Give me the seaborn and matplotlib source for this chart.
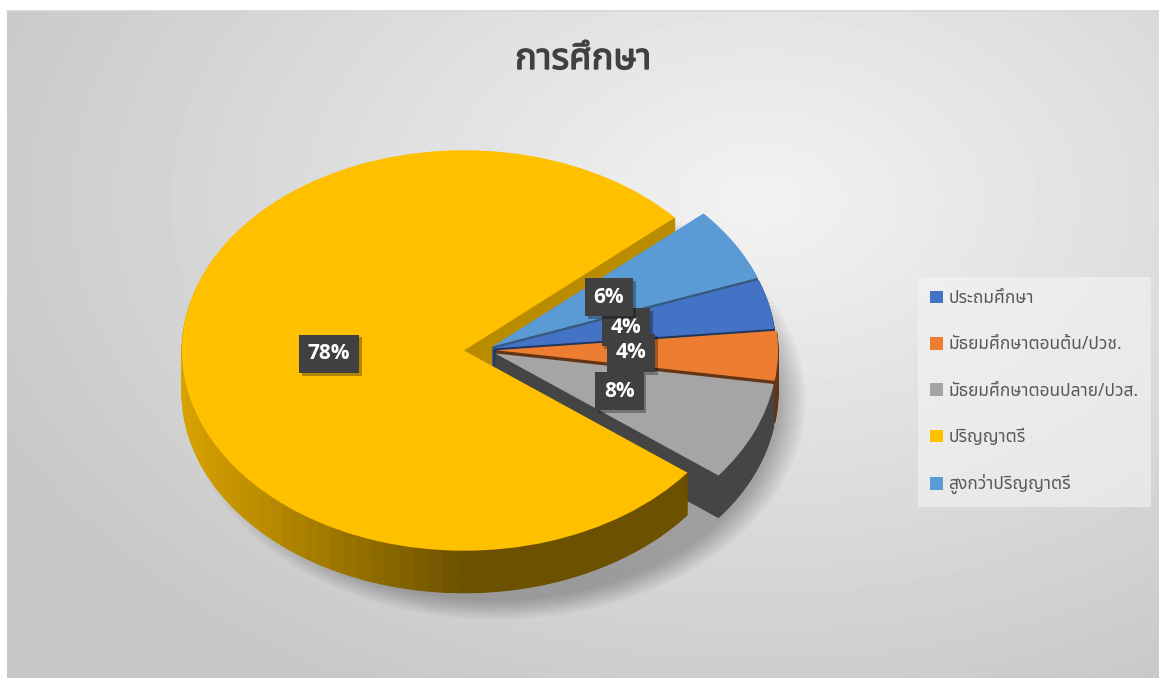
import numpy as np
import matplotlib
matplotlib.use('Agg')
import matplotlib.pyplot as plt
import matplotlib.patheffects as pe
from matplotlib import font_manager
from matplotlib.patches import Patch
from matplotlib.lines import Line2D
import seaborn as sns

# Chart data
chart_title = 'การศึกษา'
categories = ['ประถมศึกษา', 'มัธยมศึกษาตอนต้น/ปวช.', 'มัธยมศึกษาตอนปลาย/ปวส.',
              'ปริญญาตรี', 'สูงกว่าปริญญาตรี']
shares = [4, 4, 8, 78, 6]
slice_colors = ['#4472C4', '#ED7D31', '#A5A5A5', '#FFC000', '#5B9BD5']


def find_thai_font():
    """Pick an installed family that has Thai glyphs"""
    preferred = ['Noto Sans Thai', 'Noto Sans Thai UI', 'Noto Sans Thai Looped',
                 'Loma', 'Garuda', 'Tlwg Typo', 'Sarabun', 'Kinnari', 'Norasi',
                 'Umpush', 'Waree', 'Laksaman']
    names = {f.name for f in font_manager.fontManager.ttflist}
    for n in preferred:
        if n in names:
            return n
    try:
        from fontTools.ttLib import TTFont
        for f in font_manager.fontManager.ttflist:
            try:
                tt = TTFont(f.fname, fontNumber=0, lazy=True)
                if 0x0E01 in tt.getBestCmap():
                    return f.name
            except Exception:
                continue
    except ImportError:
        pass
    return 'DejaVu Sans'


sns.set_theme(style='white')
thai_font = find_thai_font()
plt.rcParams['font.family'] = [thai_font, 'DejaVu Sans']
palette = sns.color_palette(slice_colors)

W, H = 1159, 678
fig = plt.figure(figsize=(W / 100, H / 100), dpi=100, facecolor='white')

# grey gradient chart area
bg = fig.add_axes([7 / W, 0, 1 - 7 / W, (H - 11) / H])
yy, xx = np.mgrid[11:H, 7:W]
dist = np.hypot(xx - 760, (yy - 200) * 1.5)
shade_img = np.clip(0.95 - 0.18 * dist / 900, 0.78, 0.95)
bg.imshow(shade_img, cmap='gray', vmin=0, vmax=1, aspect='auto')
bg.axis('off')
fig.add_artist(Line2D([7 / W, 1], [1 - 10.5 / H] * 2, color='#d4d4d4', lw=1.2))

# pie axes: x in pixels, y in pixels / ry (tilt)
ax = fig.add_axes([0, 0, 1, 1])
ax.patch.set_alpha(0)
ry = 0.71
R = 282
S = 20
cx, cy = 484, (H - 350) / ry
explode = [10, 12, 12, 20, 10]
depth = 42 / ry
n_layers = 30

fracs = np.array(shares) / sum(shares)
starts = S - 360 * np.concatenate([[0], np.cumsum(fracs)[:-1]])
mids = starts - 180 * fracs


def wall_factor(theta):
    t = np.radians(theta)
    return min(0.85, 0.42 + 0.43 * max(0.0, -np.cos(t)) + 0.45 * max(0.0, np.sin(t)))


# soft shadow under the pie (one disc, growing, very transparent)
for i in range(12):
    ax.pie([1], colors=['black'], radius=R + 2.5 * i,
           center=(cx + 12, cy - depth - 8 / ry), frame=True,
           wedgeprops=dict(linewidth=0, alpha=0.022))

# side walls, built from stacked pies with darker sub-wedges
for k in range(n_layers, 0, -1):
    dy = depth * k / n_layers
    for j in range(len(shares)):
        m = max(5, int(np.ceil(shares[j] * 1.2)))
        before = float(sum(shares[:j]))
        after = float(sum(shares[j + 1:]))
        vals = [before] + [shares[j] / m] * m + [after]
        base = np.array(palette[j])
        cols = ['none']
        for i in range(m):
            th = starts[j] - 360 * fracs[j] * (i + 0.5) / m
            cols.append(tuple(base * wall_factor(th)))
        cols.append('none')
        ox = explode[j] * np.cos(np.radians(mids[j]))
        oy = explode[j] * np.sin(np.radians(mids[j]))
        wedges, _ = ax.pie(vals, colors=cols, startangle=S, counterclock=False,
                           radius=R, center=(cx + ox, cy + oy - dy), frame=True,
                           wedgeprops=dict(linewidth=0.8))
        for i, w in enumerate(wedges):
            if i == 0 or i == len(wedges) - 1:
                w.set_visible(False)
            else:
                w.set_edgecolor(w.get_facecolor())

# top faces with percent labels
wedges, _, autotexts = ax.pie(shares, colors=palette, explode=explode, startangle=S,
                              counterclock=False, radius=R, center=(cx, cy), frame=True,
                              autopct='%1.0f%%', pctdistance=0.48,
                              wedgeprops=dict(linewidth=0.5, edgecolor='none'),
                              textprops=dict(color='white', fontsize=15, fontweight='bold',
                                             family=['Open Sans', 'DejaVu Sans']))
for t in autotexts:
    t.set_bbox(dict(boxstyle='square,pad=0.42', fc='#404040', ec='none'))
    t.get_bbox_patch().set_path_effects(
        [pe.withSimplePatchShadow(offset=(2, -2), shadow_rgbFace='black', alpha=0.3)])

ax.set_aspect('auto')
ax.set_xlim(0, W)
ax.set_ylim(0, H / ry)
ax.axis('off')

# title (stroke thickens the Thai glyphs)
fig.text(583 / W, 1 - 60 / H, chart_title, ha='center', va='center',
         fontsize=26, fontweight='bold', color='#404040',
         path_effects=[pe.withStroke(linewidth=1.0, foreground='#404040')])

# legend
handles = [Patch(facecolor=c, edgecolor='none', label=l) for c, l in zip(palette, categories)]
leg = fig.legend(handles=handles, loc='upper left', bbox_to_anchor=(918 / W, 1 - 277 / H),
                 borderaxespad=0, frameon=True, facecolor='#f4f4f4', edgecolor='none',
                 framealpha=0.6, fancybox=False, labelspacing=1.63, handlelength=0.75,
                 handleheight=0.75, handletextpad=0.3, borderpad=0.7, fontsize=12.5,
                 labelcolor='#595959')

plt.savefig('out.png', dpi=100, facecolor='white')
plt.close()
